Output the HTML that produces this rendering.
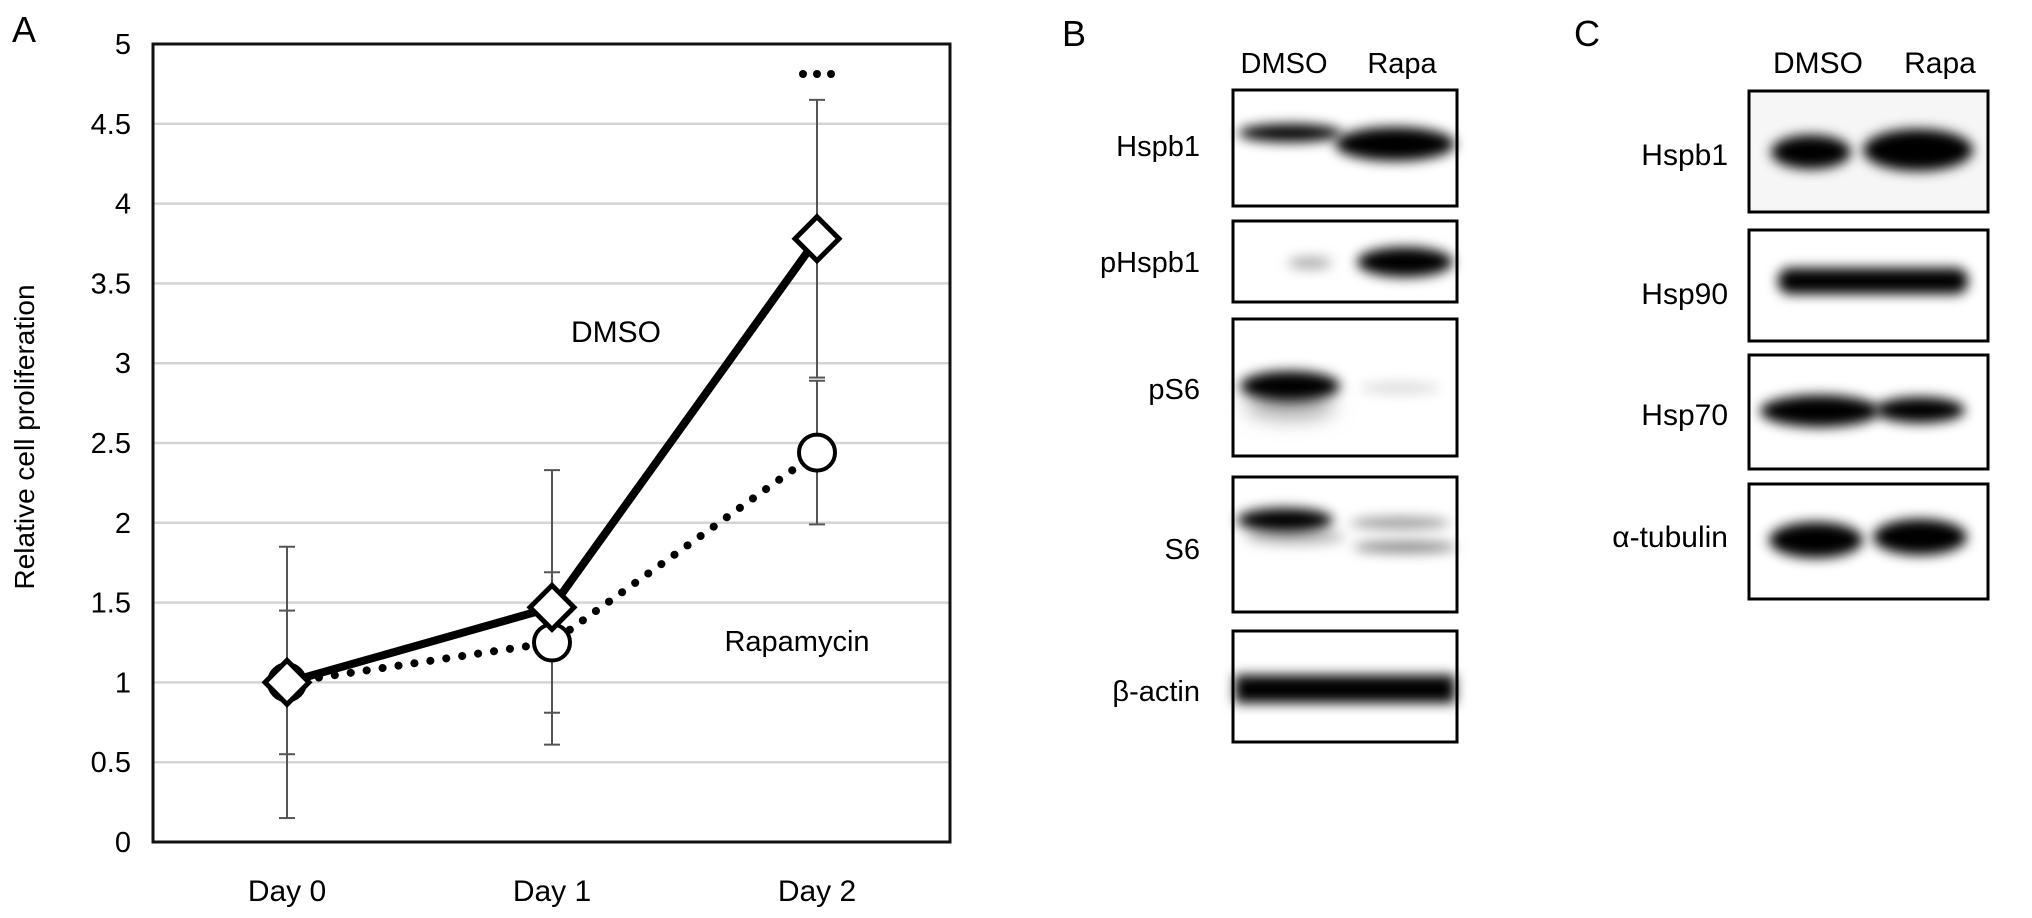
<!DOCTYPE html>
<html><head><meta charset="utf-8"><style>
html,body{margin:0;padding:0;background:#fff;}
svg{display:block;font-family:"Liberation Sans",Arial,sans-serif;}
</style></head><body>
<svg id="fig" width="2032" height="918" viewBox="0 0 2032 918">
<defs>
<filter id="bl" x="-30%" y="-100%" width="160%" height="300%"><feGaussianBlur stdDeviation="6"/></filter>
<filter id="bl2" x="-30%" y="-100%" width="160%" height="300%"><feGaussianBlur stdDeviation="10"/></filter>
</defs>
<text x="12" y="42" font-size="36">A</text>
<text x="1062" y="46" font-size="36">B</text>
<text x="1574" y="46" font-size="36">C</text>
<g id="chart"></g>

<!-- Panel B -->
<g font-size="29">
<text x="1284" y="73" text-anchor="middle">DMSO</text>
<text x="1402" y="73" text-anchor="middle">Rapa</text>
<g>
<text x="1200" y="156" text-anchor="end">Hspb1</text>
<rect x="1233" y="90" width="224" height="116" fill="#fff"/>
<ellipse cx="1290" cy="133" rx="52" ry="9" fill="#000" filter="url(#bl)"/>
<ellipse cx="1395" cy="144" rx="60" ry="17" fill="#000" filter="url(#bl)"/>
<rect x="1233" y="90" width="224" height="116" fill="none" stroke="#000" stroke-width="3"/>
</g>
<g>
<text x="1200" y="272" text-anchor="end">pHspb1</text>
<rect x="1233" y="221" width="224" height="81" fill="#fff"/>
<ellipse cx="1310" cy="263" rx="22" ry="6" fill="#aaa" filter="url(#bl)"/>
<ellipse cx="1405" cy="262" rx="48" ry="15" fill="#000" filter="url(#bl)"/>
<rect x="1233" y="221" width="224" height="81" fill="none" stroke="#000" stroke-width="3"/>
</g>
<g>
<text x="1200" y="399" text-anchor="end">pS6</text>
<rect x="1233" y="319" width="224" height="137" fill="#fff"/>
<ellipse cx="1290" cy="405" rx="45" ry="14" fill="#aaa" filter="url(#bl2)"/>
<ellipse cx="1290" cy="386" rx="50" ry="15" fill="#000" filter="url(#bl)"/>
<ellipse cx="1400" cy="388" rx="40" ry="6" fill="#ddd" filter="url(#bl)"/>
<rect x="1233" y="319" width="224" height="137" fill="none" stroke="#000" stroke-width="3"/>
</g>
<g>
<text x="1200" y="559" text-anchor="end">S6</text>
<rect x="1233" y="477" width="224" height="135" fill="#fff"/>
<ellipse cx="1295" cy="537" rx="50" ry="8" fill="#bbb" filter="url(#bl)"/>
<ellipse cx="1285" cy="520" rx="48" ry="12" fill="#000" filter="url(#bl)"/>
<ellipse cx="1400" cy="523" rx="50" ry="6" fill="#999" filter="url(#bl)"/>
<ellipse cx="1405" cy="547" rx="52" ry="6" fill="#888" filter="url(#bl)"/>
<rect x="1233" y="477" width="224" height="135" fill="none" stroke="#000" stroke-width="3"/>
</g>
<g>
<text x="1200" y="701" text-anchor="end">β-actin</text>
<rect x="1233" y="631" width="224" height="111" fill="#fff"/>
<rect x="1235" y="675" width="220" height="28" fill="#000" filter="url(#bl)"/>
<rect x="1233" y="631" width="224" height="111" fill="none" stroke="#000" stroke-width="3"/>
</g>
</g>

<!-- Panel C -->
<g font-size="30">
<text x="1818" y="73" text-anchor="middle">DMSO</text>
<text x="1940" y="73" text-anchor="middle">Rapa</text>
<g>
<text x="1728" y="165" text-anchor="end">Hspb1</text>
<rect x="1749" y="91" width="239" height="121" fill="#f6f6f6"/>
<ellipse cx="1811" cy="152" rx="40" ry="17" fill="#000" filter="url(#bl)"/>
<ellipse cx="1918" cy="150" rx="55" ry="21" fill="#000" filter="url(#bl)"/>
<rect x="1749" y="91" width="239" height="121" fill="none" stroke="#000" stroke-width="3"/>
</g>
<g>
<text x="1728" y="304" text-anchor="end">Hsp90</text>
<rect x="1749" y="230" width="239" height="111" fill="#fff"/>
<rect x="1778" y="268" width="190" height="26" rx="12" fill="#000" filter="url(#bl)"/>
<rect x="1749" y="230" width="239" height="111" fill="none" stroke="#000" stroke-width="3"/>
</g>
<g>
<text x="1728" y="425" text-anchor="end">Hsp70</text>
<rect x="1749" y="355" width="239" height="114" fill="#fff"/>
<ellipse cx="1820" cy="411" rx="60" ry="16" fill="#000" filter="url(#bl)"/>
<ellipse cx="1920" cy="410" rx="45" ry="13" fill="#000" filter="url(#bl)"/>
<rect x="1749" y="355" width="239" height="114" fill="none" stroke="#000" stroke-width="3"/>
</g>
<g>
<text x="1728" y="547" text-anchor="end">α-tubulin</text>
<rect x="1749" y="484" width="239" height="115" fill="#fff"/>
<ellipse cx="1816" cy="540" rx="47" ry="18" fill="#000" filter="url(#bl)"/>
<ellipse cx="1920" cy="537" rx="47" ry="18" fill="#000" filter="url(#bl)"/>
<rect x="1749" y="484" width="239" height="115" fill="none" stroke="#000" stroke-width="3"/>
</g>
</g>
</svg>
<script>
const categories = ["Day 0", "Day 1", "Day 2"];
const dmsoValues = [1, 1.47, 3.78];
const dmsoErrors = [0.45, 0.86, 0.87];
const rapaValues = [1, 1.25, 2.44];
const rapaErrors = [0.85, 0.44, 0.45];
const yTicks = [0, 0.5, 1, 1.5, 2, 2.5, 3, 3.5, 4, 4.5, 5];
const yTickLabels = ["0", "0.5", "1", "1.5", "2", "2.5", "3", "3.5", "4", "4.5", "5"];

const NS = "http://www.w3.org/2000/svg";
const g = document.getElementById("chart");
const L = 153, R = 950, T = 44, B = 842;
const x0 = 287, dx = 265;
function xs(i) { return x0 + i * dx; }
function ys(v) { return B - (v / 5) * (B - T); }
function mk(tag, attrs, parent) {
  const e = document.createElementNS(NS, tag);
  for (const k in attrs) e.setAttribute(k, attrs[k]);
  (parent || g).appendChild(e);
  return e;
}
yTicks.forEach((v, i) => {
  if (v > 0 && v < 5) {
    const l = mk("line", {x1: L, x2: R, y1: ys(v), y2: ys(v), stroke: "#d4d4d4", "stroke-width": 2.5});
    
    
  }
  const t = mk("text", {x: 131, y: ys(v) + 10, "text-anchor": "end", "font-size": 29});
  t.textContent = yTickLabels[i];
  
  
});
const frame = mk("rect", {x: L, y: T, width: R - L, height: B - T, fill: "none", stroke: "#111", "stroke-width": 3});


categories.forEach((c, i) => {
  const t = mk("text", {x: xs(i), y: 901, "text-anchor": "middle", "font-size": 30});
  t.textContent = c;
  
  
});
const yt = mk("text", {x: 0, y: 0, "text-anchor": "middle", "font-size": 28, transform: "translate(34,437) rotate(-90)"});
yt.textContent = "Relative cell proliferation";



function errs(vals, e, name) {
  vals.forEach((v, i) => {
    const x = xs(i);
    const eg = mk("g", {stroke: "#555", "stroke-width": 2});
    
    
    mk("line", {x1: x, x2: x, y1: ys(v + e[i]), y2: ys(v - e[i])}, eg);
    mk("line", {x1: x - 8, x2: x + 8, y1: ys(v + e[i]), y2: ys(v + e[i])}, eg);
    mk("line", {x1: x - 8, x2: x + 8, y1: ys(v - e[i]), y2: ys(v - e[i])}, eg);
  });
}
errs(dmsoValues, dmsoErrors, 'dmso-error-bar');
errs(rapaValues, rapaErrors, 'rapamycin-error-bar');

const rp = mk("polyline", {points: rapaValues.map((v, i) => xs(i) + "," + ys(v)).join(" "), fill: "none", stroke: "#000", "stroke-width": 8, "stroke-linecap": "round", "stroke-dasharray": "0.1 16"});


const dp = mk("polyline", {points: dmsoValues.map((v, i) => xs(i) + "," + ys(v)).join(" "), fill: "none", stroke: "#000", "stroke-width": 8});



rapaValues.forEach((v, i) => {
  const c = mk("circle", {cx: xs(i), cy: ys(v), r: 18, fill: "#fff", stroke: "#000", "stroke-width": 4});
  
  
});
dmsoValues.forEach((v, i) => {
  const x = xs(i), y = ys(v), s = 22;
  const p = mk("polygon", {points: `${x},${y - s} ${x + s},${y} ${x},${y + s} ${x - s},${y}`, fill: "#fff", stroke: "#000", "stroke-width": 5});
  
  
});
const sig = mk("g", {fill: "#000"});


[-14, 0, 14].forEach(d => mk("circle", {cx: xs(2) + d, cy: 74, r: 4}, sig));
const l1 = mk("text", {x: 616, y: 342, "text-anchor": "middle", "font-size": 30});
l1.textContent = "DMSO";


const l2 = mk("text", {x: 797, y: 651, "text-anchor": "middle", "font-size": 29});
l2.textContent = "Rapamycin";


</script>
</body></html>
